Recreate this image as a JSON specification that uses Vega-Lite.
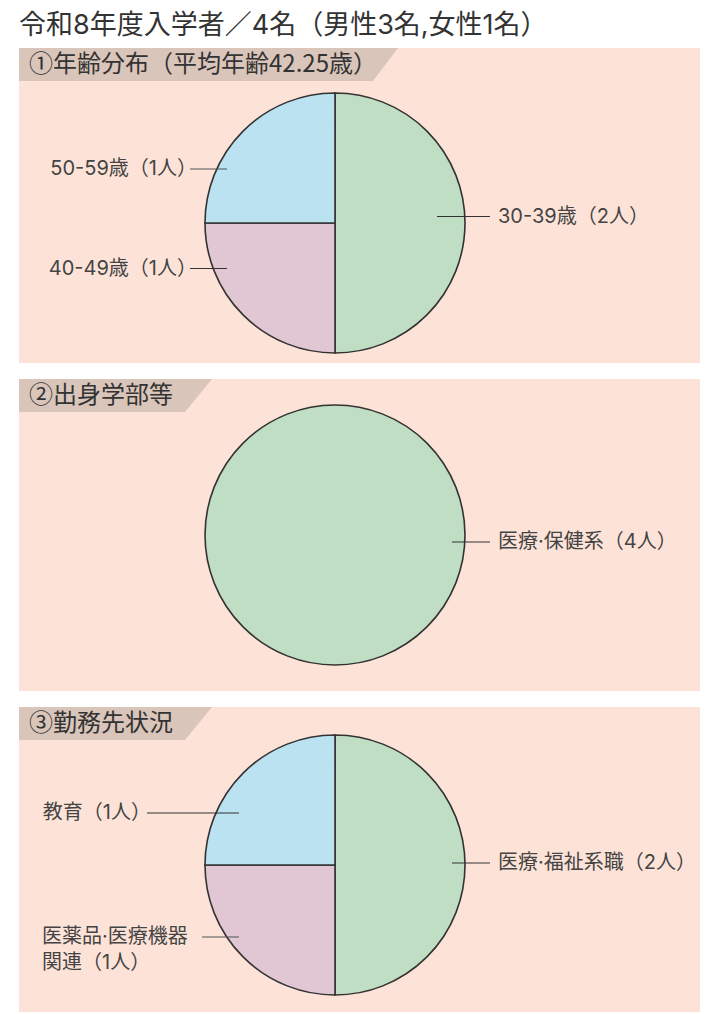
{
  "$schema": "https://vega.github.io/schema/vega-lite/v6.json",
  "background": "white",
  "padding": {"left": 19, "top": 12, "right": 18, "bottom": 0},
  "title": {
    "text": "令和8年度入学者／4名（男性3名,女性1名）",
    "anchor": "start",
    "fontSize": 27,
    "font": "Inter, 'Noto Sans CJK JP'",
    "fontWeight": "normal",
    "color": "#333333",
    "offset": 8
  },
  "datasets": {
    "age": [
      {"group": "30-39歳", "count": 2, "label": "30-39歳（2人）"},
      {"group": "40-49歳", "count": 1, "label": "40-49歳（1人）"},
      {"group": "50-59歳", "count": 1, "label": "50-59歳（1人）"}
    ],
    "faculty": [
      {"group": "医療·保健系", "count": 4, "label": "医療·保健系（4人）"}
    ],
    "work": [
      {"group": "医療·福祉系職", "count": 2, "label": "医療·福祉系職（2人）"},
      {"group": "医薬品·医療機器関連", "count": 1, "label": "医薬品·医療機器\n関連（1人）"},
      {"group": "教育", "count": 1, "label": "教育（1人）"}
    ]
  },
  "spacing": 16,
  "resolve": {"scale": {"x": "independent", "y": "independent", "color": "independent"}},
  "vconcat": [
    {
      "width": 681,
      "height": 315,
      "view": {"fill": "#fde3d7", "stroke": null},
      "data": {"name": "age"},
      "layer": [
        {
          "data": {"values": [{"heading": "①年齢分布（平均年齢42.25歳）"}]},
          "mark": {"type": "point", "shape": "M0,0H379L354,33H0Z", "size": 4, "filled": true, "fill": "#d9c5ba", "strokeWidth": 0, "opacity": 1},
          "encoding": {
            "x": {"datum": -316, "scale": {"domain": [-316, 365], "nice": false, "zero": false}, "axis": null},
            "y": {"datum": 175, "scale": {"domain": [-140, 175], "nice": false, "zero": false}, "axis": null}
          }
        },
        {
          "data": {"values": [{"heading": "①年齢分布（平均年齢42.25歳）"}]},
          "mark": {"type": "text", "align": "left", "baseline": "middle", "fontSize": 24, "color": "#333333", "font": "'Noto Sans CJK JP'"},
          "encoding": {"x": {"datum": -306}, "y": {"datum": 158}, "text": {"field": "heading"}}
        },
        {
          "mark": {"type": "arc", "outerRadius": 130, "stroke": "#333333", "strokeWidth": 1.6},
          "encoding": {
            "theta": {"field": "count", "type": "quantitative", "stack": true},
            "color": {"field": "group", "type": "nominal", "scale": {"domain": ["30-39歳", "40-49歳", "50-59歳"], "range": ["#c0dec3", "#e1c6d3", "#bae2f0"]}, "legend": null},
            "x": {"datum": 0},
            "y": {"datum": 0}
          }
        },
        {
          "transform": [{"filter": "datum.group === '30-39歳'"}],
          "mark": {"type": "rule", "color": "#333333", "strokeWidth": 1.2},
          "encoding": {"x": {"datum": 102}, "x2": {"datum": 155}, "y": {"datum": 6.5}}
        },
        {
          "transform": [{"filter": "datum.group === '30-39歳'"}],
          "mark": {"type": "text", "align": "left", "baseline": "middle", "fontSize": 20, "color": "#444444"},
          "encoding": {"x": {"datum": 163}, "y": {"datum": 6.5}, "text": {"field": "label"}}
        },
        {
          "transform": [{"filter": "datum.group === '50-59歳'"}],
          "mark": {"type": "rule", "color": "#555555", "strokeWidth": 1.2},
          "encoding": {"x": {"datum": -145}, "x2": {"datum": -108}, "y": {"datum": 54}}
        },
        {
          "transform": [{"filter": "datum.group === '50-59歳'"}],
          "mark": {"type": "text", "align": "right", "baseline": "middle", "fontSize": 20, "color": "#444444"},
          "encoding": {"x": {"datum": -138}, "y": {"datum": 54}, "text": {"field": "label"}}
        },
        {
          "transform": [{"filter": "datum.group === '40-49歳'"}],
          "mark": {"type": "rule", "color": "#333333", "strokeWidth": 1.2},
          "encoding": {"x": {"datum": -145}, "x2": {"datum": -108}, "y": {"datum": -45.5}}
        },
        {
          "transform": [{"filter": "datum.group === '40-49歳'"}],
          "mark": {"type": "text", "align": "right", "baseline": "middle", "fontSize": 20, "color": "#444444"},
          "encoding": {"x": {"datum": -138}, "y": {"datum": -45.5}, "text": {"field": "label"}}
        }
      ]
    },
    {
      "width": 681,
      "height": 312,
      "view": {"fill": "#fde3d7", "stroke": null},
      "data": {"name": "faculty"},
      "layer": [
        {
          "data": {"values": [{"heading": "②出身学部等"}]},
          "mark": {"type": "point", "shape": "M0,0H193L166,33H0Z", "size": 4, "filled": true, "fill": "#d9c5ba", "strokeWidth": 0, "opacity": 1},
          "encoding": {
            "x": {"datum": -316, "scale": {"domain": [-316, 365], "nice": false, "zero": false}, "axis": null},
            "y": {"datum": 156, "scale": {"domain": [-156, 156], "nice": false, "zero": false}, "axis": null}
          }
        },
        {
          "data": {"values": [{"heading": "②出身学部等"}]},
          "mark": {"type": "text", "align": "left", "baseline": "middle", "fontSize": 24, "color": "#333333", "font": "'Noto Sans CJK JP'"},
          "encoding": {"x": {"datum": -306}, "y": {"datum": 139}, "text": {"field": "heading"}}
        },
        {
          "mark": {"type": "arc", "outerRadius": 130, "stroke": "#333333", "strokeWidth": 1.6},
          "encoding": {
            "theta": {"field": "count", "type": "quantitative", "stack": true},
            "color": {"field": "group", "type": "nominal", "scale": {"domain": ["医療·保健系"], "range": ["#c0dec3"]}, "legend": null},
            "x": {"datum": 0},
            "y": {"datum": 0}
          }
        },
        {
          "mark": {"type": "rule", "color": "#333333", "strokeWidth": 1.2},
          "encoding": {"x": {"datum": 117}, "x2": {"datum": 155}, "y": {"datum": -7}}
        },
        {
          "mark": {"type": "text", "align": "left", "baseline": "middle", "fontSize": 20, "color": "#444444"},
          "encoding": {"x": {"datum": 163}, "y": {"datum": -7}, "text": {"field": "label"}}
        }
      ]
    },
    {
      "width": 681,
      "height": 305,
      "view": {"fill": "#fde3d7", "stroke": null},
      "data": {"name": "work"},
      "layer": [
        {
          "data": {"values": [{"heading": "③勤務先状況"}]},
          "mark": {"type": "point", "shape": "M0,0H193L166,33H0Z", "size": 4, "filled": true, "fill": "#d9c5ba", "strokeWidth": 0, "opacity": 1},
          "encoding": {
            "x": {"datum": -316, "scale": {"domain": [-316, 365], "nice": false, "zero": false}, "axis": null},
            "y": {"datum": 158, "scale": {"domain": [-147, 158], "nice": false, "zero": false}, "axis": null}
          }
        },
        {
          "data": {"values": [{"heading": "③勤務先状況"}]},
          "mark": {"type": "text", "align": "left", "baseline": "middle", "fontSize": 24, "color": "#333333", "font": "'Noto Sans CJK JP'"},
          "encoding": {"x": {"datum": -306}, "y": {"datum": 141}, "text": {"field": "heading"}}
        },
        {
          "mark": {"type": "arc", "outerRadius": 130, "stroke": "#333333", "strokeWidth": 1.6},
          "encoding": {
            "theta": {"field": "count", "type": "quantitative", "stack": true},
            "color": {"field": "group", "type": "nominal", "scale": {"domain": ["医療·福祉系職", "医薬品·医療機器関連", "教育"], "range": ["#c0dec3", "#e1c6d3", "#bae2f0"]}, "legend": null},
            "x": {"datum": 0},
            "y": {"datum": 0}
          }
        },
        {
          "transform": [{"filter": "datum.group === '医療·福祉系職'"}],
          "mark": {"type": "rule", "color": "#333333", "strokeWidth": 1.2},
          "encoding": {"x": {"datum": 117}, "x2": {"datum": 155}, "y": {"datum": 2}}
        },
        {
          "transform": [{"filter": "datum.group === '医療·福祉系職'"}],
          "mark": {"type": "text", "align": "left", "baseline": "middle", "fontSize": 20, "color": "#444444"},
          "encoding": {"x": {"datum": 163}, "y": {"datum": 2}, "text": {"field": "label"}}
        },
        {
          "transform": [{"filter": "datum.group === '教育'"}],
          "mark": {"type": "rule", "color": "#333333", "strokeWidth": 1.2},
          "encoding": {"x": {"datum": -188}, "x2": {"datum": -96}, "y": {"datum": 52}}
        },
        {
          "transform": [{"filter": "datum.group === '教育'"}],
          "mark": {"type": "text", "align": "right", "baseline": "middle", "fontSize": 20, "color": "#444444"},
          "encoding": {"x": {"datum": -184}, "y": {"datum": 52}, "text": {"field": "label"}}
        },
        {
          "transform": [{"filter": "datum.group === '医薬品·医療機器関連'"}],
          "mark": {"type": "rule", "color": "#555555", "strokeWidth": 1.2},
          "encoding": {"x": {"datum": -133}, "x2": {"datum": -96}, "y": {"datum": -72}}
        },
        {
          "transform": [{"filter": "datum.group === '医薬品·医療機器関連'"}],
          "mark": {"type": "text", "align": "left", "baseline": "middle", "fontSize": 20, "color": "#444444", "lineBreak": "\n", "lineHeight": 26},
          "encoding": {"x": {"datum": -293}, "y": {"datum": -72}, "text": {"field": "label"}}
        }
      ]
    }
  ],
  "config": {
    "view": {"stroke": null},
    "text": {"font": "Inter, 'Noto Sans CJK JP'"}
  }
}
